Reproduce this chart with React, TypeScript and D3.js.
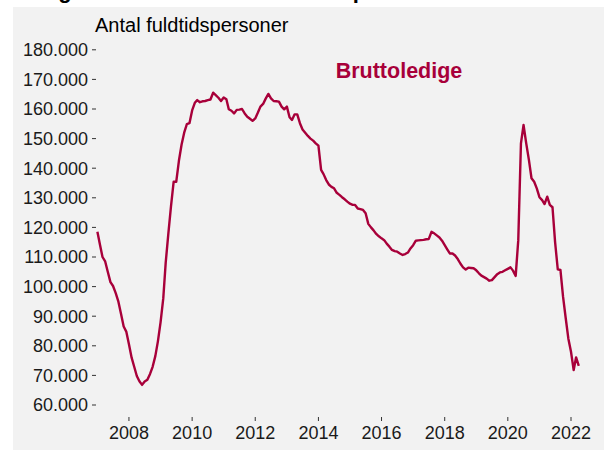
import React from "react";
import * as d3 from "d3";

// Monthly series, starting January 2007 (thousands of full-time persons)
const startYear = 2007;
const startMonth = 0;
const values: number[] = [
  118.5, 114.0, 110.0, 108.5, 105.0, 101.5, 100.2, 97.8, 94.9, 90.8, 86.5, 84.8,
  80.5, 76.0, 73.0, 69.8, 68.0, 66.8, 67.9, 68.5, 70.5, 72.9, 76.5, 81.5,
  88.0, 96.0, 108.0, 118.0, 127.0, 135.4, 135.4, 142.5, 148.0, 152.0, 154.9, 155.2,
  159.5, 162.1, 163.0, 162.3, 162.6, 162.7, 163.0, 163.2, 165.5, 164.7, 163.8, 162.7,
  163.9, 163.3, 159.9, 159.4, 158.5, 159.7, 159.8, 160.0, 158.5, 157.4, 156.7, 156.0,
  156.8, 158.8, 160.8, 161.7, 163.5, 165.1, 163.6, 162.7, 162.6, 162.5, 160.8, 159.9,
  160.8, 157.2, 156.3, 158.2, 158.2, 155.2, 153.1, 152.0, 150.9, 150.0, 149.3, 148.4,
  147.6, 139.4, 138.0, 136.0, 134.5, 133.7, 133.2, 131.7, 131.0, 130.2, 129.5, 128.7,
  128.0, 127.6, 127.6, 126.4, 126.2, 125.9, 124.8, 121.2, 120.0, 119.0, 117.8, 117.0,
  116.3, 115.7, 114.5, 113.5, 112.4, 112.0, 111.8, 111.2, 110.7, 111.0, 111.5, 112.9,
  114.0, 115.5, 115.6, 115.7, 115.8, 116.0, 116.1, 118.5, 118.0, 117.3, 116.6, 115.5,
  114.0, 112.5, 111.2, 111.2, 110.5, 109.3, 107.8, 106.5, 105.8, 106.4, 106.3, 106.2,
  105.5, 104.5, 103.7, 103.2, 102.7, 102.0, 102.2, 103.2, 104.2, 104.8, 105.0, 105.5,
  106.0, 106.5, 105.4, 103.6, 115.7, 148.4, 154.6, 148.4, 142.8, 136.6, 135.4, 133.2,
  130.2, 129.2, 127.9, 130.4, 127.6, 126.8, 115.0, 105.8, 105.6, 96.6, 89.3, 82.5,
  78.0, 71.8, 76.1, 73.2,
];

const yTicks = [60000, 70000, 80000, 90000, 100000, 110000, 120000, 130000, 140000, 150000, 160000, 170000, 180000];
const xTickYears = [2008, 2010, 2012, 2014, 2016, 2018, 2020, 2022];
const seriesLabel = "Bruttoledige";
const yTitle = "Antal fuldtidspersoner";
const chartTitle = "Ledigheden er nu lavere end før pandemien";

const W = 604;
const H = 450;
const lineColor = "#a8003a";
const font = "'Liberation Sans', Arial, sans-serif";

const locale = d3.formatLocale({ decimal: ",", thousands: ".", grouping: [3], currency: ["", " kr."] });
const fmt = locale.format(",.0f");

export default function App() {
  const data = values.map((v, i) => ({
    date: new Date(Date.UTC(startYear, startMonth + i, 1)),
    value: v * 1000,
  }));

  const x = d3
    .scaleUtc()
    .domain([new Date(Date.UTC(2007, 0, 1)), new Date(Date.UTC(2022, 0, 1))])
    .range([97.4, 571]);
  const y = d3.scaleLinear().domain([60000, 180000]).range([405, 49.8]);

  const line = d3
    .line<{ date: Date; value: number }>()
    .x((d) => x(d.date))
    .y((d) => y(d.value));

  return (
    <svg
      width={W}
      height={H}
      style={{ position: "fixed", left: 0, top: 0, background: "#ffffff" }}
      fontFamily={font}
    >
      <rect x={0} y={0} width={W} height={H} fill="#ffffff" />
      <text x={13} y={-2} fontSize={22} fontWeight="bold" fill="#000">
        {chartTitle}
      </text>
      <rect x={13} y={7} width={W - 13} height={H - 7} fill="#f2f2f2" />
      <text x={95} y={32} fontSize={20} fill="#000">
        {yTitle}
      </text>
      {yTicks.map((t) => (
        <g key={t}>
          <line x1={92} x2={96} y1={y(t)} y2={y(t)} stroke="#333" strokeWidth={1} />
          <text x={88} y={y(t)} dy="0.36em" textAnchor="end" fontSize={18} fill="#1a1a1a">
            {fmt(t)}
          </text>
        </g>
      ))}
      {xTickYears.map((yr) => {
        const xx = x(new Date(Date.UTC(yr, 0, 1)));
        return (
          <g key={yr}>
            <line x1={xx} x2={xx} y1={417} y2={421} stroke="#333" strokeWidth={1} />
            <text x={xx} y={439} textAnchor="middle" fontSize={18} fill="#1a1a1a">
              {yr}
            </text>
          </g>
        );
      })}
      <path d={line(data) || ""} fill="none" stroke={lineColor} strokeWidth={2.4} strokeLinejoin="round" />
      <text x={399} y={78} textAnchor="middle" fontSize={21.5} fontWeight="bold" fill={lineColor}>
        {seriesLabel}
      </text>
    </svg>
  );
}
